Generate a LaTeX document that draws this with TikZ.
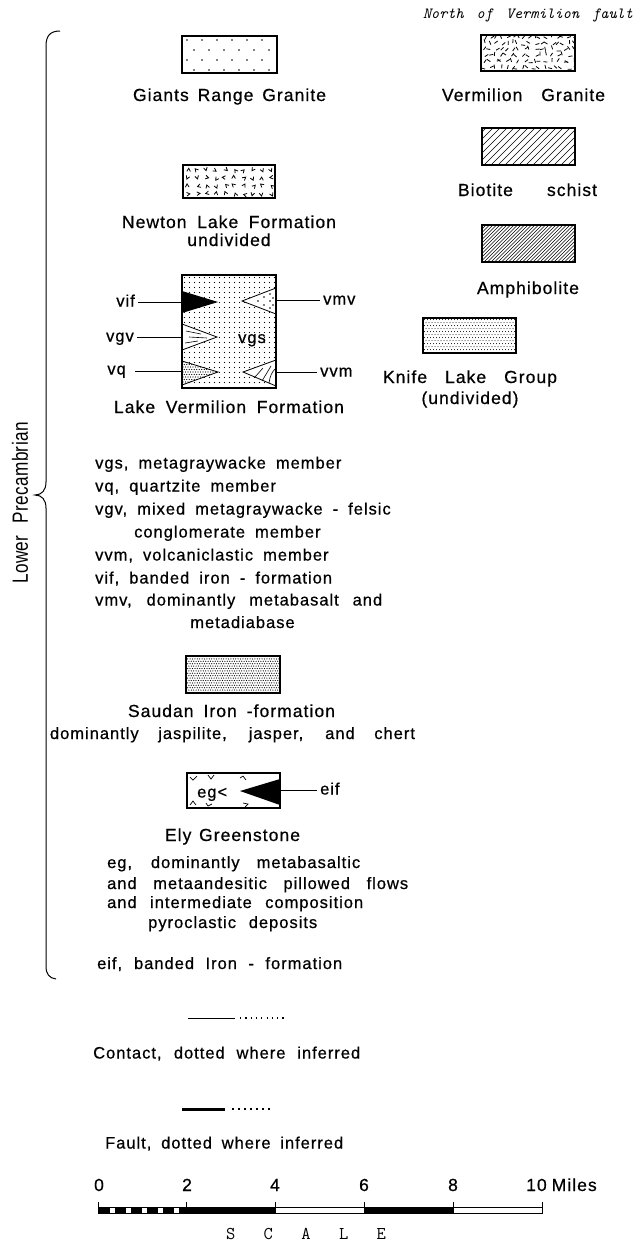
\documentclass[tikz,border=0pt]{standalone}
\usepackage{fontspec}
\usepackage{graphicx}
\setmainfont[LetterSpace=6,WordSpace=1.8,FakeBold=0.6]{Liberation Sans}
\newfontfamily\plainsans[LetterSpace=2]{Liberation Sans}
\newcommand{\fitw}[2]{\makebox[#1][s]{#2}}
\begin{document}
\begin{tikzpicture}[x=1pt,y=-1pt,
  hd/.style={inner sep=0pt,anchor=base,font=\fontsize{17.5}{21}\selectfont},
  dsc/.style={inner sep=0pt,anchor=base west,font=\fontsize{16.5}{20}\selectfont},
  dcc/.style={inner sep=0pt,anchor=base,font=\fontsize{16.5}{20}\selectfont},
  lab/.style={inner sep=0pt,font=\fontsize{16.5}{20}\selectfont},
  frame/.style={draw,line width=1.2pt},
  conn/.style={line width=0.9pt}]
\useasboundingbox (0,0) rectangle (636,1243);
\fill[white] (0,0) rectangle (636,1243);

% ---------- header
\node[inner sep=0pt,anchor=base,font=\ttfamily\itshape\fontsize{15.5}{17}\selectfont\addfontfeature{FakeBold=0.8}] (nvf) at (528,18.5) {\makebox[210pt]{North\hfill of\hfill Vermilion\hfill fault}};

% ---------- brace and era label
\draw[line width=1pt] (60,31) .. controls (50,31) and (46,36) .. (46,46) -- (46,482)
  .. controls (46,490) and (42,495) .. (35,495) .. controls (42,495) and (46,500) .. (46,508)
  -- (46,966) .. controls (46,974) and (49,978) .. (56,979);
\node[rotate=90,inner sep=0pt,font=\plainsans\fontsize{22}{24}\selectfont] (lp) at (20,503) {\scalebox{0.78}[1]{Lower\kern16pt Precambrian}};

% ---------- Giants Range Granite
\coordinate (grA) at (182,36); \coordinate (grB) at (277,73);
\begin{scope}
\clip (grA) rectangle (grB);
\foreach \r in {0,1,2,3}{\foreach \c in {0,...,6}{\fill ({187+\c*15+mod(\r,2)*7},{40+\r*10}) circle (0.9pt);}}
\end{scope}
\draw[frame] (grA) rectangle (grB);
\node[hd] (tgr) at (229.5,101) {\fitw{193pt}{Giants Range Granite}};

% ---------- Vermilion Granite
\pgfmathsetseed{11}
\coordinate (vgA) at (481,35); \coordinate (vgB) at (575,71);
\begin{scope}
\clip (vgA) rectangle (vgB);
\foreach \c in {0,...,16}{\foreach \r in {0,...,5}{
  \pgfmathsetmacro\px{483+\c*5.6+3*rnd}
  \pgfmathsetmacro\py{37+\r*6+2.5*rnd}
  \pgfmathsetmacro\pa{180*rnd}
  \draw[line width=0.8pt] (\px,\py) -- ++(\pa:4pt);}}
\end{scope}
\draw[frame] (vgA) rectangle (vgB);
\node[hd] (tvg) at (523.5,101) {\fitw{163pt}{Vermilion Granite}};

% ---------- Biotite schist
\coordinate (bsA) at (482,128); \coordinate (bsB) at (575,165);
\begin{scope}
\clip (bsA) rectangle (bsB);
\foreach \i in {-40,-33,...,100}{\draw[line width=0.5pt] ({482+\i},165) -- ({519+\i},128);}
\end{scope}
\draw[frame] (bsA) rectangle (bsB);
\node[hd] (tbs) at (527.5,196) {\fitw{139pt}{Biotite schist}};

% ---------- Newton Lake Formation
\coordinate (nlA) at (183,165); \coordinate (nlB) at (275,198);
\begin{scope}
\clip (nlA) rectangle (nlB);
\foreach \c in {0,...,9}{\foreach \r in {0,...,3}{
  \pgfmathsetmacro\px{187+\c*9.2+3*rnd}
  \pgfmathsetmacro\py{169+\r*8+2*rnd}
  \pgfmathsetmacro\pa{360*rnd}
  \draw[line width=0.8pt,shift={(\px,\py)},rotate=\pa] (-1.8pt,-1.5pt) -- (0pt,1.6pt) -- (1.8pt,-1.5pt);}}
\end{scope}
\draw[frame] (nlA) rectangle (nlB);
\node[hd] (tnl) at (229,228) {\fitw{214pt}{Newton Lake Formation}};
\node[hd] (tnl2) at (229,246) {undivided};

% ---------- Amphibolite
\coordinate (amA) at (482,225); \coordinate (amB) at (575,262);
\begin{scope}
\clip (amA) rectangle (amB);
\foreach \i in {-40,-36.5,...,100}{\draw[line width=0.55pt] ({482+\i},262) -- ({519+\i},225);}
\end{scope}
\draw[frame] (amA) rectangle (amB);
\node[hd] (tam) at (528,294) {Amphibolite};

% ---------- Knife Lake Group
\coordinate (klA) at (423,318); \coordinate (klB) at (516,353);
\begin{scope}
\clip (klA) rectangle (klB);
\foreach \r in {0,...,11}{\foreach \c in {0,...,31}{\fill ({424.5+\c*3+mod(\r,2)*1.5},{319.5+\r*3}) circle (0.5pt);}}
\end{scope}
\draw[frame] (klA) rectangle (klB);
\node[hd] (tkl) at (470,383) {\fitw{174pt}{Knife Lake Group}};
\node[hd] (tkl2) at (470,404) {(undivided)};

% ---------- Lake Vermilion Formation box
\coordinate (lvA) at (182,275); \coordinate (lvB) at (276,388);
\begin{scope}
\clip (lvA) rectangle (lvB);
\foreach \r in {0,...,22}{\foreach \c in {0,...,18}{\fill ({184.5+\c*5},{277.5+\r*5}) circle (0.65pt);}}
\end{scope}
% vif (black)
\fill (182,291) -- (218,302) -- (182,313) -- cycle;
% vgv
\draw[line width=0.8pt,fill=white] (182,324) -- (217,337) -- (182,350) -- cycle;
\draw[line width=0.6pt] (186,331) -- (201,334) (189,337) -- (207,338) (185,343) -- (198,341);
% vq
\draw[line width=0.8pt,fill=white] (182,361) -- (218,372) -- (182,385) -- cycle;
\begin{scope}
\clip (182,361) -- (218,372) -- (182,385) -- cycle;
\foreach \r in {0,...,9}{\foreach \c in {0,...,14}{\fill ({183+\c*2.5+mod(\r,2)*1.25},{362+\r*2.5}) circle (0.55pt);}}
\end{scope}
% vmv
\draw[line width=0.8pt,fill=white] (276,288) -- (242,301) -- (276,314) -- cycle;
\foreach \p in {(258,301),(264,297),(264,305),(270,294),(270,301),(270,308),(273,298),(273,305)}{\fill \p circle (0.8pt);}
% vvm
\draw[line width=0.8pt,fill=white] (276,360) -- (243,372) -- (276,386) -- cycle;
\draw[line width=0.6pt] (255,377) -- (263,368) (262,381) -- (271,366) (269,383) .. controls (270,376) and (272,372) .. (275,369);
\draw[frame] (lvA) rectangle (lvB);
\node[lab,anchor=base] (lvgs) at (252,343) {vgs};
% labels and leaders
\node[lab,anchor=base east] (lvif) at (135,306.5) {vif};
\node[lab,anchor=base east] (lvgv) at (134,341.5) {vgv};
\node[lab,anchor=base east] (lvq) at (126,374.5) {vq};
\node[lab,anchor=base west] (lvmv) at (323,304.5) {vmv};
\node[lab,anchor=base west] (lvvm) at (320,376.5) {vvm};
\coordinate (pvif) at (182,302);
\coordinate (pvgv) at (182,337);
\coordinate (pvq) at (182,371);
\coordinate (pvmv) at (276,300);
\coordinate (pvvm) at (276,372);
\draw[conn,shorten <=3pt] (lvif.east |- pvif) -- (pvif);
\draw[conn,shorten <=3pt] (lvgv.east |- pvgv) -- (pvgv);
\draw[conn,shorten <=9pt] (lvq.east |- pvq) -- (pvq);
\draw[conn,shorten >=3pt] (pvmv) -- (lvmv.west |- pvmv);
\draw[conn,shorten >=3pt] (pvvm) -- (lvvm.west |- pvvm);
\node[hd] (tlv) at (229,413) {Lake Vermilion Formation};

% ---------- member list
\node[dsc] (m1) at (95,468.5) {vgs, metagraywacke member};
\node[dsc] (m2) at (95,491.5) {vq, quartzite member};
\node[dsc] (m3) at (95,514.5) {vgv, mixed metagraywacke - felsic};
\node[dsc] (m3b) at (134,537.5) {conglomerate member};
\node[dsc] (m4) at (95,560.5) {vvm, volcaniclastic member};
\node[dsc] (m5) at (95,583.5) {vif, banded iron - formation};
\node[dsc] (m6) at (95,605.5) {\fitw{287pt}{vmv, dominantly metabasalt and}};
\node[dcc] (m6b) at (242.5,628) {metadiabase};

% ---------- Saudan Iron-formation
\coordinate (saA) at (186,656); \coordinate (saB) at (280,693);
\begin{scope}
\clip (saA) rectangle (saB);
\foreach \r in {0,...,16}{\foreach \c in {0,...,40}{\fill ({186.5+\c*2.4+mod(\r,2)*1.2},{656.5+\r*2.4}) circle (0.62pt);}}
\end{scope}
\draw[frame] (saA) rectangle (saB);
\node[hd] (tsa) at (231.5,717) {\fitw{207pt}{Saudan Iron -formation}};
\node[dcc] (tsa2) at (232.5,739) {\fitw{365pt}{dominantly jaspilite, jasper, and chert}};

% ---------- Ely Greenstone
\coordinate (elA) at (187,773); \coordinate (elB) at (280,808);
\draw[line width=0.7pt] (190,777) -- (193,780) -- (197,776)
  (208,775) -- (211,779) -- (214,775)
  (240,778) -- (243,776) -- (246,780)
  (190,805) -- (193,801) -- (196,805)
  (206,803) -- (208,806) -- (212,804)
  (243,803) -- (248,804) -- (245,807);
\fill (240,791) -- (280,779) -- (280,805) -- cycle;
\draw[frame] (elA) rectangle (elB);
\node[lab,anchor=base west] (leg) at (197,797.5) {eg\kern1pt<};
\node[lab,anchor=base west] (leif) at (320,794.5) {eif};
\coordinate (peif) at (280,790);
\draw[conn,shorten >=3pt] (peif) -- (leif.west |- peif);
\node[hd] (tel) at (232.5,841) {\fitw{135pt}{Ely Greenstone}};
\node[dsc] (e1) at (107,868) {\fitw{253pt}{eg, dominantly metabasaltic}};
\node[dsc] (e2) at (107,889) {\fitw{301pt}{and metaandesitic pillowed flows}};
\node[dsc] (e3) at (107,908) {\fitw{256pt}{and intermediate composition}};
\node[dsc] (e4) at (148,928) {\fitw{169pt}{pyroclastic deposits}};
\node[dsc] (e5) at (97,969) {\fitw{245pt}{eif, banded Iron - formation}};

% ---------- Contact and fault
\coordinate (ca) at (188,1018); \coordinate (cb) at (235,1018);
\coordinate (cc) at (240,1018); \coordinate (cd) at (285,1018);
\draw[line width=1pt] (ca) -- (cb);
\draw[line width=1.2pt,dash pattern=on 1.2pt off 4.1pt] (cc) -- (cd);
\node[dsc] (tct) at (93,1058.5) {\fitw{267pt}{Contact, dotted where inferred}};
\coordinate (fa) at (182,1109); \coordinate (fb) at (225,1109);
\coordinate (fc) at (232,1109); \coordinate (fd) at (270,1109);
\draw[line width=3pt] (fa) -- (fb);
\draw[line width=2pt,dash pattern=on 2pt off 4pt] (fc) -- (fd);
\node[dsc] (tft) at (105,1148.5) {\fitw{238pt}{Fault, dotted where inferred}};

% ---------- scale bar
\draw[line width=5pt,dash pattern=on 11pt off 5pt] (99,1210) -- (186.8,1210);
\fill (186.8,1207) rectangle (275.6,1213);
\fill (364.4,1207) rectangle (453.2,1213);
\draw[line width=0.8pt] (98,1207) rectangle (542,1213);
\foreach \k in {0,...,5}{\draw[line width=0.9pt] ({98+\k*88.8},1202) -- ({98+\k*88.8},1213);}
\node[hd] (n0) at (99,1191) {0};
\node[hd] (n2) at (187,1191) {2};
\node[hd] (n4) at (275,1191) {4};
\node[hd] (n6) at (364,1191) {6};
\node[hd] (n8) at (453,1191) {8};
\node[hd,anchor=base west] (n10) at (526,1191) {10\kern5pt Miles};
\node[inner sep=0pt,anchor=base,font=\ttfamily\fontsize{18}{19}\selectfont\addfontfeature{FakeBold=1}] (tsc) at (306,1239.5) {\makebox[160pt]{S\hfill C\hfill A\hfill L\hfill E}};
\end{tikzpicture}
\end{document}
